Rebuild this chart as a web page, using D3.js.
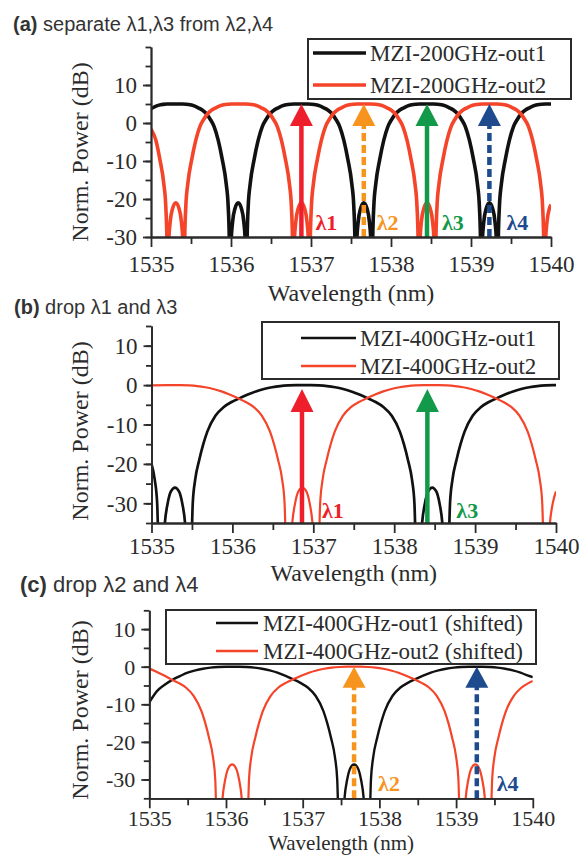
<!DOCTYPE html>
<html>
<head>
<meta charset="utf-8">
<script src="https://cdn.jsdelivr.net/npm/d3@7"></script>
<style>
  body { margin: 0; background: #fff; }
</style>
</head>
<body>
<script>
// ---- data: [wavelength (nm), normalized power (dB)] ----
const a_out1 = [[1535.00,3.8],[1535.05,4.3],[1535.10,4.7],[1535.15,4.9],[1535.20,5.0],[1535.31,5.0],[1535.39,5.0],[1535.44,4.95],[1535.49,4.8],[1535.54,4.5],[1535.59,4.0],[1535.64,3.4],[1535.69,2.5],[1535.74,1.0],[1535.79,-1.0],[1535.84,-4.5],[1535.89,-9.5],[1535.94,-16],[1535.965,-22],[1535.98,-32],[1535.99,-50],[1536.00,-32],[1536.02,-26],[1536.05,-22.5],[1536.09,-21],[1536.13,-22.5],[1536.16,-26],[1536.18,-32],[1536.19,-50],[1536.20,-32],[1536.215,-22],[1536.24,-16],[1536.29,-9.5],[1536.34,-4.5],[1536.39,-1.0],[1536.44,1.0],[1536.49,2.5],[1536.54,3.4],[1536.59,4.0],[1536.64,4.5],[1536.69,4.8],[1536.74,4.95],[1536.79,5.0],[1536.875,5.0],[1536.96,5.0],[1537.01,4.95],[1537.06,4.8],[1537.11,4.5],[1537.16,4.0],[1537.21,3.4],[1537.26,2.5],[1537.31,1.0],[1537.36,-1.0],[1537.41,-4.5],[1537.46,-9.5],[1537.51,-16],[1537.535,-22],[1537.55,-32],[1537.56,-50],[1537.57,-32],[1537.59,-26],[1537.62,-22.5],[1537.66,-21],[1537.70,-22.5],[1537.73,-26],[1537.75,-32],[1537.76,-50],[1537.77,-32],[1537.785,-22],[1537.81,-16],[1537.86,-9.5],[1537.91,-4.5],[1537.96,-1.0],[1538.01,1.0],[1538.06,2.5],[1538.11,3.4],[1538.16,4.0],[1538.21,4.5],[1538.26,4.8],[1538.31,4.95],[1538.36,5.0],[1538.445,5.0],[1538.53,5.0],[1538.58,4.95],[1538.63,4.8],[1538.68,4.5],[1538.73,4.0],[1538.78,3.4],[1538.83,2.5],[1538.88,1.0],[1538.93,-1.0],[1538.98,-4.5],[1539.03,-9.5],[1539.08,-16],[1539.105,-22],[1539.12,-32],[1539.13,-50],[1539.14,-32],[1539.16,-26],[1539.19,-22.5],[1539.23,-21],[1539.27,-22.5],[1539.30,-26],[1539.32,-32],[1539.33,-50],[1539.34,-32],[1539.355,-22],[1539.38,-16],[1539.43,-9.5],[1539.48,-4.5],[1539.53,-1.0],[1539.58,1.0],[1539.63,2.5],[1539.68,3.4],[1539.73,4.0],[1539.78,4.5],[1539.83,4.8],[1539.88,4.95],[1539.93,5.0],[1540.00,5.0]];

const a_out2 = [[1535.00,-1.6],[1535.06,-4.5],[1535.11,-9.5],[1535.16,-16],[1535.185,-22],[1535.20,-32],[1535.21,-50],[1535.22,-32],[1535.24,-26],[1535.27,-22.5],[1535.31,-21],[1535.35,-22.5],[1535.38,-26],[1535.40,-32],[1535.41,-50],[1535.42,-32],[1535.435,-22],[1535.46,-16],[1535.51,-9.5],[1535.56,-4.5],[1535.61,-1.0],[1535.66,1.0],[1535.71,2.5],[1535.76,3.4],[1535.81,4.0],[1535.86,4.5],[1535.91,4.8],[1535.96,4.95],[1536.01,5.0],[1536.095,5.0],[1536.18,5.0],[1536.23,4.95],[1536.28,4.8],[1536.33,4.5],[1536.38,4.0],[1536.43,3.4],[1536.48,2.5],[1536.53,1.0],[1536.58,-1.0],[1536.63,-4.5],[1536.68,-9.5],[1536.73,-16],[1536.755,-22],[1536.77,-32],[1536.78,-50],[1536.79,-32],[1536.81,-26],[1536.84,-22.5],[1536.88,-21],[1536.92,-22.5],[1536.95,-26],[1536.97,-32],[1536.98,-50],[1536.99,-32],[1537.005,-22],[1537.03,-16],[1537.08,-9.5],[1537.13,-4.5],[1537.18,-1.0],[1537.23,1.0],[1537.28,2.5],[1537.33,3.4],[1537.38,4.0],[1537.43,4.5],[1537.48,4.8],[1537.53,4.95],[1537.58,5.0],[1537.665,5.0],[1537.75,5.0],[1537.80,4.95],[1537.85,4.8],[1537.90,4.5],[1537.95,4.0],[1538.00,3.4],[1538.05,2.5],[1538.10,1.0],[1538.15,-1.0],[1538.20,-4.5],[1538.25,-9.5],[1538.30,-16],[1538.325,-22],[1538.34,-32],[1538.35,-50],[1538.36,-32],[1538.38,-26],[1538.41,-22.5],[1538.45,-21],[1538.49,-22.5],[1538.52,-26],[1538.54,-32],[1538.55,-50],[1538.56,-32],[1538.575,-22],[1538.60,-16],[1538.65,-9.5],[1538.70,-4.5],[1538.75,-1.0],[1538.80,1.0],[1538.85,2.5],[1538.90,3.4],[1538.95,4.0],[1539.00,4.5],[1539.05,4.8],[1539.10,4.95],[1539.15,5.0],[1539.235,5.0],[1539.32,5.0],[1539.37,4.95],[1539.42,4.8],[1539.47,4.5],[1539.52,4.0],[1539.57,3.4],[1539.62,2.5],[1539.67,1.0],[1539.72,-1.0],[1539.77,-4.5],[1539.82,-9.5],[1539.87,-16],[1539.895,-22],[1539.91,-32],[1539.92,-50],[1539.93,-32],[1539.95,-26],[1539.98,-22.5],[1540.00,-21.5]];

const b_out1 = [[1535.00,-20],[1535.04,-24],[1535.07,-30],[1535.09,-45],[1535.11,-60],[1535.135,-45],[1535.165,-35],[1535.20,-30],[1535.24,-27],[1535.29,-26],[1535.34,-27],[1535.38,-30],[1535.415,-35],[1535.445,-45],[1535.47,-60],[1535.49,-45],[1535.51,-30],[1535.54,-24],[1535.59,-19],[1535.64,-15],[1535.69,-11.8],[1535.79,-7.8],[1535.89,-5.6],[1535.99,-4.3],[1536.09,-3.3],[1536.19,-2.4],[1536.29,-1.6],[1536.39,-1.0],[1536.49,-0.55],[1536.59,-0.25],[1536.69,-0.08],[1536.79,0],[1536.88,0],[1536.97,0],[1537.07,-0.08],[1537.17,-0.25],[1537.27,-0.55],[1537.37,-1.0],[1537.47,-1.6],[1537.57,-2.4],[1537.67,-3.3],[1537.77,-4.3],[1537.87,-5.6],[1537.97,-7.8],[1538.07,-11.8],[1538.12,-15],[1538.17,-19],[1538.22,-24],[1538.25,-30],[1538.27,-45],[1538.29,-60],[1538.315,-45],[1538.345,-35],[1538.38,-30],[1538.42,-27],[1538.47,-26],[1538.52,-27],[1538.56,-30],[1538.595,-35],[1538.625,-45],[1538.65,-60],[1538.67,-45],[1538.69,-30],[1538.72,-24],[1538.77,-19],[1538.82,-15],[1538.87,-11.8],[1538.97,-7.8],[1539.07,-5.6],[1539.17,-4.3],[1539.27,-3.3],[1539.37,-2.4],[1539.47,-1.6],[1539.57,-1.0],[1539.67,-0.55],[1539.77,-0.25],[1539.87,-0.08],[1539.97,0],[1540.00,0]];

const b_out2 = [[1535.00,-0.05],[1535.20,0],[1535.365,0],[1535.465,-0.08],[1535.565,-0.25],[1535.665,-0.55],[1535.765,-1.0],[1535.865,-1.6],[1535.965,-2.4],[1536.065,-3.3],[1536.165,-4.3],[1536.265,-5.6],[1536.365,-7.8],[1536.465,-11.8],[1536.515,-15],[1536.565,-19],[1536.615,-24],[1536.645,-30],[1536.665,-45],[1536.685,-60],[1536.71,-45],[1536.74,-35],[1536.775,-30],[1536.815,-27],[1536.865,-26],[1536.915,-27],[1536.955,-30],[1536.99,-35],[1537.02,-45],[1537.045,-60],[1537.065,-45],[1537.085,-30],[1537.115,-24],[1537.165,-19],[1537.215,-15],[1537.265,-11.8],[1537.365,-7.8],[1537.465,-5.6],[1537.565,-4.3],[1537.665,-3.3],[1537.765,-2.4],[1537.865,-1.6],[1537.965,-1.0],[1538.065,-0.55],[1538.165,-0.25],[1538.265,-0.08],[1538.365,0],[1538.46,0],[1538.55,0],[1538.65,-0.08],[1538.75,-0.25],[1538.85,-0.55],[1538.95,-1.0],[1539.05,-1.6],[1539.15,-2.4],[1539.25,-3.3],[1539.35,-4.3],[1539.45,-5.6],[1539.55,-7.8],[1539.65,-11.8],[1539.70,-15],[1539.75,-19],[1539.80,-24],[1539.83,-30],[1539.85,-45],[1539.87,-60],[1539.895,-45],[1539.925,-35],[1539.96,-30],[1540.00,-27]];

const c_out1 = [[1535.00,-9.5],[1535.10,-6.5],[1535.20,-4.8],[1535.30,-3.5],[1535.40,-2.5],[1535.50,-1.6],[1535.60,-1.0],[1535.70,-0.55],[1535.80,-0.25],[1535.90,-0.08],[1536.00,0],[1536.085,0],[1536.17,0],[1536.27,-0.08],[1536.37,-0.25],[1536.47,-0.55],[1536.57,-1.0],[1536.67,-1.6],[1536.77,-2.4],[1536.87,-3.3],[1536.97,-4.3],[1537.07,-5.6],[1537.17,-7.8],[1537.27,-11.8],[1537.32,-15],[1537.37,-19],[1537.42,-24],[1537.45,-30],[1537.47,-45],[1537.49,-60],[1537.515,-45],[1537.545,-35],[1537.58,-30],[1537.62,-27],[1537.67,-26],[1537.72,-27],[1537.76,-30],[1537.795,-35],[1537.825,-45],[1537.85,-60],[1537.87,-45],[1537.89,-30],[1537.92,-24],[1537.97,-19],[1538.02,-15],[1538.07,-11.8],[1538.17,-7.8],[1538.27,-5.6],[1538.37,-4.3],[1538.47,-3.3],[1538.57,-2.4],[1538.67,-1.6],[1538.77,-1.0],[1538.87,-0.55],[1538.97,-0.25],[1539.07,-0.08],[1539.17,0],[1539.255,0],[1539.34,0],[1539.44,-0.08],[1539.54,-0.25],[1539.64,-0.55],[1539.74,-1.0],[1539.84,-1.6],[1539.94,-2.4],[1540.00,-2.8]];

const c_out2 = [[1535.00,-0.5],[1535.08,-1.2],[1535.18,-2.2],[1535.28,-3.3],[1535.38,-4.3],[1535.48,-5.6],[1535.58,-7.8],[1535.68,-11.8],[1535.73,-15],[1535.78,-19],[1535.83,-24],[1535.86,-30],[1535.88,-45],[1535.90,-60],[1535.925,-45],[1535.955,-35],[1535.99,-30],[1536.03,-27],[1536.08,-26],[1536.13,-27],[1536.17,-30],[1536.205,-35],[1536.235,-45],[1536.26,-60],[1536.28,-45],[1536.30,-30],[1536.33,-24],[1536.38,-19],[1536.43,-15],[1536.48,-11.8],[1536.58,-7.8],[1536.68,-5.6],[1536.78,-4.3],[1536.88,-3.3],[1536.98,-2.4],[1537.08,-1.6],[1537.18,-1.0],[1537.28,-0.55],[1537.38,-0.25],[1537.48,-0.08],[1537.58,0],[1537.665,0],[1537.75,0],[1537.85,-0.08],[1537.95,-0.25],[1538.05,-0.55],[1538.15,-1.0],[1538.25,-1.6],[1538.35,-2.4],[1538.45,-3.3],[1538.55,-4.3],[1538.65,-5.6],[1538.75,-7.8],[1538.85,-11.8],[1538.90,-15],[1538.95,-19],[1539.00,-24],[1539.03,-30],[1539.05,-45],[1539.07,-60],[1539.095,-45],[1539.125,-35],[1539.16,-30],[1539.20,-27],[1539.25,-26],[1539.30,-27],[1539.34,-30],[1539.375,-35],[1539.405,-45],[1539.43,-60],[1539.45,-45],[1539.47,-30],[1539.50,-24],[1539.55,-19],[1539.60,-15],[1539.65,-11.8],[1539.75,-7.8],[1539.85,-5.6],[1539.95,-4.3],[1540.00,-3.8]];

// channel arrows: wavelength (nm) and tip level (dB)
const lamA = [1536.88, 1537.66, 1538.45, 1539.23];
const lamB = [1536.86, 1538.41];
const lamC = [1537.67, 1539.27];
const tipA = 5, tipB = -1, tipC = 0;
const lamNamesA = ['λ1', 'λ2', 'λ3', 'λ4'];
const lamNamesB = ['λ1', 'λ3'];
const lamNamesC = ['λ2', 'λ4'];

// ticks and legend text
const xTicks = [1535, 1536, 1537, 1538, 1539, 1540];
const xMinorTicks = [1535.5, 1536.5, 1537.5, 1538.5, 1539.5];
const yTicks = [-30, -20, -10, 0, 10];
const yMinorA = [-30, -25, -20, -15, -10, -5, 0, 5, 10, 15, 20];
const yMinorBC = [-35, -30, -25, -20, -15, -10, -5, 0, 5, 10, 15];
const legendA = ['MZI-200GHz-out1', 'MZI-200GHz-out2'];
const legendB = ['MZI-400GHz-out1', 'MZI-400GHz-out2'];
const legendC = ['MZI-400GHz-out1 (shifted)', 'MZI-400GHz-out2 (shifted)'];

// ---- styles ----
const serif = '"Liberation Serif","Times New Roman",serif';
const sans = '"Liberation Sans",Arial,sans-serif';
const ink = '#2b2b2b';
const black = '#111';
const redLine = '#f4442a';
const lamColor = { 'λ1': '#ee1f2b', 'λ2': '#f7941d', 'λ3': '#12994a', 'λ4': '#1d4b8d' };
const lamDashed = { 'λ1': false, 'λ2': true, 'λ3': false, 'λ4': true };

const panels = [
  { id: 'a', series: [a_out1, a_out2], legend: legendA, lam: lamA, lamNames: lamNamesA, tip: tipA,
    x0: 151, x1: 551, yTop: 47, yBot: 237, yDom: [-30, 20], yMinor: yMinorA,
    wBlack: 3.6, wRed: 3.6, headH: 22, labOff: [14, 13, 15, 17], labY: 230,
    title: ['(a)', ' separate λ1,λ3 from λ2,λ4'], titleX: 13, titleY: 31, titleSize: 20,
    box: [308, 39, 263, 60], legLine: [313, 366], legText: 370, legRows: [53, 85], legW: 3.4,
    tickFont: 23, tickBase: 35, ylabY: 152, xlabY: 301, axisFont: 24 },
  { id: 'b', series: [b_out1, b_out2], legend: legendB, lam: lamB, lamNames: lamNamesB, tip: tipB,
    x0: 151.5, x1: 556, yTop: 326, yBot: 523, yDom: [-35, 15], yMinor: yMinorBC,
    wBlack: 2.7, wRed: 2.2, headH: 23, labOff: [20, 29], labY: 518,
    title: ['(b)', ' drop λ1 and λ3'], titleX: 14, titleY: 314, titleSize: 20,
    box: [262, 322, 297, 57], legLine: [301, 356], legText: 360, legRows: [338, 366], legW: 2.6,
    tickFont: 23, tickBase: 31, ylabY: 431, xlabY: 581, axisFont: 24 },
  { id: 'c', series: [c_out1, c_out2], legend: legendC, lam: lamC, lamNames: lamNamesC, tip: tipC,
    x0: 149.3, x1: 532.8, yTop: 610.3, yBot: 798.3, yDom: [-35, 15], yMinor: yMinorBC,
    wBlack: 2.4, wRed: 2.2, headH: 21, labOff: [24, 20], labY: 791,
    title: ['(c)', ' drop λ2 and λ4'], titleX: 20, titleY: 592, titleSize: 22,
    box: [166, 610, 370, 54], legLine: [216, 258], legText: 263, legRows: [623, 651], legW: 2.4,
    tickFont: 22, tickBase: 28, ylabY: 710, xlabY: 850, axisFont: 21 }
];

const svg = d3.select('body').append('svg')
  .attr('width', 582)
  .attr('height', 855);

panels.forEach((p) => {
  const x = d3.scaleLinear().domain([1535, 1540]).range([p.x0, p.x1]);
  const y = d3.scaleLinear().domain(p.yDom).range([p.yBot, p.yTop]);
  const g = svg.append('g');

  // clip curves to the plot area
  g.append('clipPath').attr('id', 'clip-' + p.id)
    .append('rect')
    .attr('x', p.x0).attr('y', p.yTop - 20)
    .attr('width', p.x1 - p.x0).attr('height', p.yBot - p.yTop + 20);

  const line = d3.line()
    .x((d) => x(d[0]))
    .y((d) => y(d[1]))
    .curve(d3.curveMonotoneX);

  const curves = g.append('g').attr('clip-path', `url(#clip-${p.id})`);
  curves.append('path').attr('d', line(p.series[0]))
    .attr('fill', 'none').attr('stroke', black).attr('stroke-width', p.wBlack);
  curves.append('path').attr('d', line(p.series[1]))
    .attr('fill', 'none').attr('stroke', redLine).attr('stroke-width', p.wRed);

  // wavelength channel arrows
  p.lam.forEach((w, i) => {
    const name = p.lamNames[i];
    const col = lamColor[name];
    const cx = x(w);
    const tipY = y(p.tip);
    const baseY = tipY + p.headH;
    g.append('line')
      .attr('x1', cx).attr('x2', cx)
      .attr('y1', y(p.yDom[0])).attr('y2', baseY - 1)
      .attr('stroke', col).attr('stroke-width', 4.5)
      .attr('stroke-dasharray', lamDashed[name] ? '8,4' : null);
    g.append('path')
      .attr('d', `M${cx},${tipY} L${cx - 11.5},${baseY} L${cx + 11.5},${baseY} Z`)
      .attr('fill', col);
    g.append('text')
      .attr('x', cx + p.labOff[i]).attr('y', p.labY)
      .attr('font-family', serif).attr('font-weight', 'bold')
      .attr('font-size', 22).attr('fill', col)
      .text(name);
  });

  // axes
  const styleAxis = (ax) => {
    ax.attr('font-family', null).attr('font-size', null);
    ax.selectAll('path, line').attr('stroke', ink).attr('stroke-width', 1.8);
  };

  const xMinor = g.append('g').attr('transform', `translate(0,${p.yBot})`)
    .call(d3.axisBottom(x).tickValues(xMinorTicks).tickSize(7).tickSizeOuter(0).tickFormat(''));
  styleAxis(xMinor);
  const xAxis = g.append('g').attr('transform', `translate(0,${p.yBot})`)
    .call(d3.axisBottom(x).tickValues(xTicks).tickSize(10).tickSizeOuter(0).tickFormat((d) => String(d)));
  styleAxis(xAxis);
  xAxis.selectAll('text')
    .attr('y', p.tickBase).attr('dy', null)
    .attr('font-family', serif).attr('font-size', p.tickFont).attr('fill', ink);

  const yMinor = g.append('g').attr('transform', `translate(${p.x0},0)`)
    .call(d3.axisLeft(y).tickValues(p.yMinor).tickSize(5.5).tickSizeOuter(0).tickFormat(''));
  styleAxis(yMinor);
  const yAxis = g.append('g').attr('transform', `translate(${p.x0},0)`)
    .call(d3.axisLeft(y).tickValues(yTicks).tickSize(8).tickSizeOuter(0).tickFormat((d) => String(d)));
  styleAxis(yAxis);
  yAxis.selectAll('text')
    .attr('x', -14).attr('dy', '0.34em')
    .attr('font-family', serif).attr('font-size', p.tickFont).attr('fill', ink);

  // axis titles
  g.append('text')
    .attr('x', (p.x0 + p.x1) / 2).attr('y', p.xlabY)
    .attr('text-anchor', 'middle')
    .attr('font-family', serif).attr('font-size', p.axisFont).attr('fill', ink)
    .text('Wavelength (nm)');
  g.append('text')
    .attr('transform', `translate(88,${p.ylabY}) rotate(-90)`)
    .attr('text-anchor', 'middle')
    .attr('font-family', serif).attr('font-size', 24).attr('fill', ink)
    .text('Norm. Power (dB)');

  // panel title
  const t = g.append('text')
    .attr('x', p.titleX).attr('y', p.titleY)
    .attr('font-family', sans).attr('font-size', p.titleSize).attr('fill', '#333');
  t.append('tspan').attr('font-weight', 'bold').text(p.title[0]);
  t.append('tspan').text(p.title[1]);

  // legend
  const lg = g.append('g');
  lg.append('rect')
    .attr('x', p.box[0]).attr('y', p.box[1])
    .attr('width', p.box[2]).attr('height', p.box[3])
    .attr('fill', '#fff').attr('stroke', ink).attr('stroke-width', 2);
  p.legend.forEach((label, i) => {
    const ry = p.legRows[i];
    lg.append('line')
      .attr('x1', p.legLine[0]).attr('x2', p.legLine[1])
      .attr('y1', ry).attr('y2', ry)
      .attr('stroke', i === 0 ? black : redLine).attr('stroke-width', p.legW);
    lg.append('text')
      .attr('x', p.legText).attr('y', ry + 7.5)
      .attr('font-family', serif).attr('font-size', 23).attr('fill', ink)
      .text(label);
  });
});
</script>
</body>
</html>
